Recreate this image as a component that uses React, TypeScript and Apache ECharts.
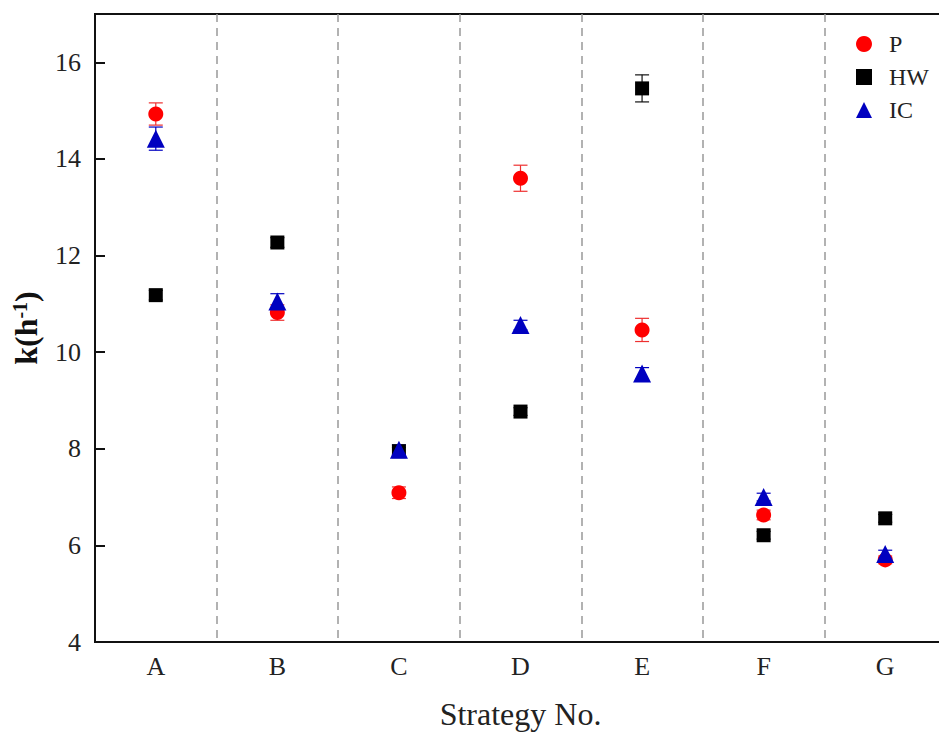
import React, { useEffect, useRef } from "react";
import * as echarts from "echarts";

const categories = ["A", "B", "C", "D", "E", "F", "G"];
const pVals = [14.93, 10.82, 7.09, 13.6, 10.46, 6.63, 5.7];
const pErr = [0.23, 0.16, 0.12, 0.27, 0.24, 0.1, 0.08];
const hwVals = [11.18, 12.27, 7.95, 8.77, 15.46, 6.21, 6.56];
const hwErr = [0.1, 0.1, 0.08, 0.08, 0.28, 0.08, 0.08];
const icVals = [14.42, 11.05, 7.98, 10.56, 9.56, 7.0, 5.82];
const icErr = [0.24, 0.16, 0.1, 0.1, 0.12, 0.08, 0.08];
const yTicks = { min: 4, max: 17, interval: 2 };

const FONT = "Liberation Serif";

function errSeries(name: string, vals: number[], errs: number[], color: string) {
  return {
    type: "custom",
    name: name + "-err",
    z: 1,
    silent: true,
    data: vals.map((v, i) => [i, v - errs[i], v + errs[i]]),
    renderItem: (params: any, api: any) => {
      const x = api.value(0);
      const lo = api.coord([x, api.value(1)]);
      const hi = api.coord([x, api.value(2)]);
      const hw = 7;
      const style = { stroke: color, lineWidth: 1.2 };
      return {
        type: "group",
        children: [
          { type: "line", shape: { x1: lo[0], y1: lo[1], x2: hi[0], y2: hi[1] }, style },
          { type: "line", shape: { x1: lo[0] - hw, y1: lo[1], x2: lo[0] + hw, y2: lo[1] }, style },
          { type: "line", shape: { x1: hi[0] - hw, y1: hi[1], x2: hi[0] + hw, y2: hi[1] }, style },
        ],
      };
    },
  };
}

export default function App() {
  const ref = useRef<HTMLDivElement>(null);
  useEffect(() => {
    if (!ref.current) return;
    const chart = echarts.init(ref.current, undefined, { renderer: "svg" });
    chart.setOption({
      animation: false,
      backgroundColor: "#fff",
      textStyle: { fontFamily: FONT },
      grid: {
        left: 95,
        top: 14,
        width: 851,
        height: 628,
        outerBoundsMode: "none",
        containLabel: false,
        show: true,
        borderColor: "#111",
        borderWidth: 2,
        backgroundColor: "transparent",
      },
      legend: {
        orient: "vertical",
        left: 851,
        top: 27,
        itemGap: 9,
        itemWidth: 16,
        itemHeight: 16,
        data: ["P", "HW", "IC"],
        textStyle: { fontFamily: FONT, fontSize: 24, color: "#222", padding: [0, 0, 0, 12] },
      },
      xAxis: {
        type: "category",
        data: categories,
        boundaryGap: true,
        axisLine: { lineStyle: { color: "#111", width: 2 } },
        axisTick: { show: false },
        axisLabel: { fontFamily: FONT, fontSize: 26, color: "#222", margin: 11 },
        splitLine: { show: true, lineStyle: { color: "#999", type: [8, 6], width: 1.5 } },
        name: "Strategy No.",
        nameLocation: "middle",
        nameGap: 56,
        nameTextStyle: { fontFamily: FONT, fontSize: 32, color: "#222" },
      },
      yAxis: {
        type: "value",
        min: yTicks.min,
        max: yTicks.max,
        interval: yTicks.interval,
        axisLine: { show: true, lineStyle: { color: "#111", width: 2 } },
        axisTick: { show: true, inside: true, length: 10, lineStyle: { color: "#111", width: 2 } },
        axisLabel: {
          fontFamily: FONT,
          fontSize: 26,
          color: "#222",
          margin: 14,
          showMaxLabel: false,
        },
        splitLine: { show: false },
        name: "{a|k(h}{b|-1}{a|)}",
        nameLocation: "middle",
        nameGap: 53,
        nameRotate: 90,
        nameTextStyle: {
          rich: {
            a: { fontFamily: FONT, fontSize: 32, fontWeight: "bold", color: "#111" },
            b: { fontFamily: FONT, fontSize: 20, fontWeight: "bold", color: "#111", verticalAlign: "top", padding: [0, 0, 12, 0] },
          },
        },
      },
      series: [
        errSeries("P", pVals, pErr, "#ee3030"),
        errSeries("HW", hwVals, hwErr, "#111"),
        errSeries("IC", icVals, icErr, "#0000c0"),
        {
          type: "scatter",
          name: "P",
          symbol: "circle",
          symbolSize: 15,
          itemStyle: { color: "#ff0000", opacity: 1 },
          data: pVals.map((v, i) => [i, v]),
          z: 3,
        },
        {
          type: "scatter",
          name: "HW",
          symbol: "rect",
          symbolSize: 14,
          itemStyle: { color: "#000", opacity: 1 },
          data: hwVals.map((v, i) => [i, v]),
          z: 3,
        },
        {
          type: "scatter",
          name: "IC",
          symbol: "triangle",
          symbolSize: 18,
          itemStyle: { color: "#0000c0", opacity: 1 },
          data: icVals.map((v, i) => [i, v]),
          z: 4,
        },
      ],
    });
    return () => chart.dispose();
  }, []);
  return (
    <div style={{ width: 939, height: 736, position: "absolute", left: 0, top: 0, overflow: "hidden" }}>
      <div ref={ref} style={{ width: 939, height: 736 }} />
    </div>
  );
}
